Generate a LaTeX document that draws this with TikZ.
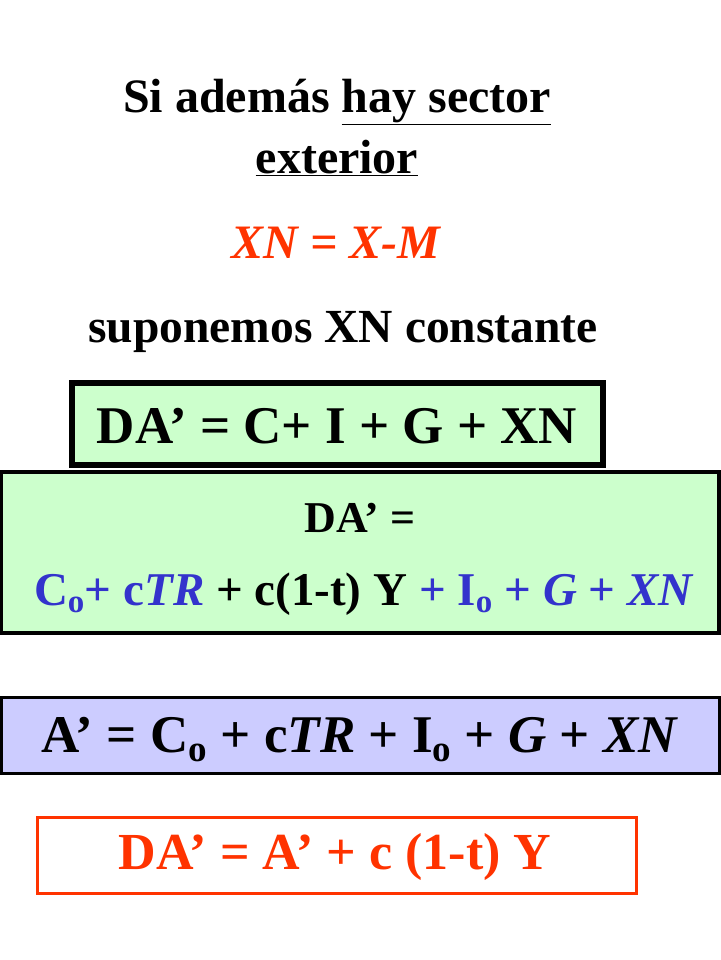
\documentclass[tikz,border=0pt]{standalone}
\usepackage{fontspec}
\setmainfont{Liberation Serif}
\newcommand\ap{\char"27\relax}
\newcommand\ul[1]{\underline{#1}}
\begin{document}
\begin{tikzpicture}[x=1pt,y=-1pt,
  txt/.style={font=\bfseries, inner sep=0pt},
  bx/.style={draw=black}]
\definecolor{lg}{HTML}{CCFFCC}
\definecolor{lv}{HTML}{CCCCFF}
\definecolor{bl}{HTML}{3333CC}
\definecolor{rd}{HTML}{FF3300}
\useasboundingbox (0,0) rectangle (720,960);
\node[txt,font=\fontsize{48}{52}\bfseries\selectfont] (t1) at (337,102) {Si además \ul{hay sector}};
\node[txt,font=\fontsize{48}{52}\bfseries\selectfont] (t2) at (337,158) {\ul{exterior}};
\node[txt,text=rd,font=\fontsize{48}{52}\bfseries\itshape\selectfont] (xn) at (336,243) {XN = X-M};
\node[txt,font=\fontsize{47.5}{52}\bfseries\selectfont] (sup) at (343,332) {suponemos XN constante};
\path[bx,fill=lg,line width=6pt] (72,383) rectangle (603,465);
\node[txt,font=\fontsize{53}{58}\bfseries\selectfont] (b1) at (337,426) {DA\ap{} = C+ I + G + XN};
\path[bx,fill=lg,line width=4pt] (1,472) rectangle (719,633);
\node[txt,font=\fontsize{44}{48}\bfseries\selectfont] (b2a) at (360,518) {DA\ap{} =};
\node[txt,font=\fontsize{47}{52}\bfseries\selectfont] (b2b) at (364,594) {\textcolor{bl}{C\textsubscript{o}+ c\textit{TR}} + c(1-t) Y \textcolor{bl}{+ I\textsubscript{o} + \textit{G} + \textit{XN}}};
\path[bx,fill=lv,line width=3pt] (1,697) rectangle (719,773);
\node[txt,font=\fontsize{53}{58}\bfseries\selectfont] (b3) at (360,740) {A\ap{} = C\textsubscript{o} + c\textit{TR} + I\textsubscript{o} + \textit{G} + \textit{XN}};
\path[draw=rd,fill=white,line width=3pt] (37,817) rectangle (636,893);
\node[txt,text=rd,font=\fontsize{52}{58}\bfseries\selectfont] (b4) at (335,857) {DA\ap{} = A\ap{} + c (1-t) Y};
\end{tikzpicture}
\end{document}
